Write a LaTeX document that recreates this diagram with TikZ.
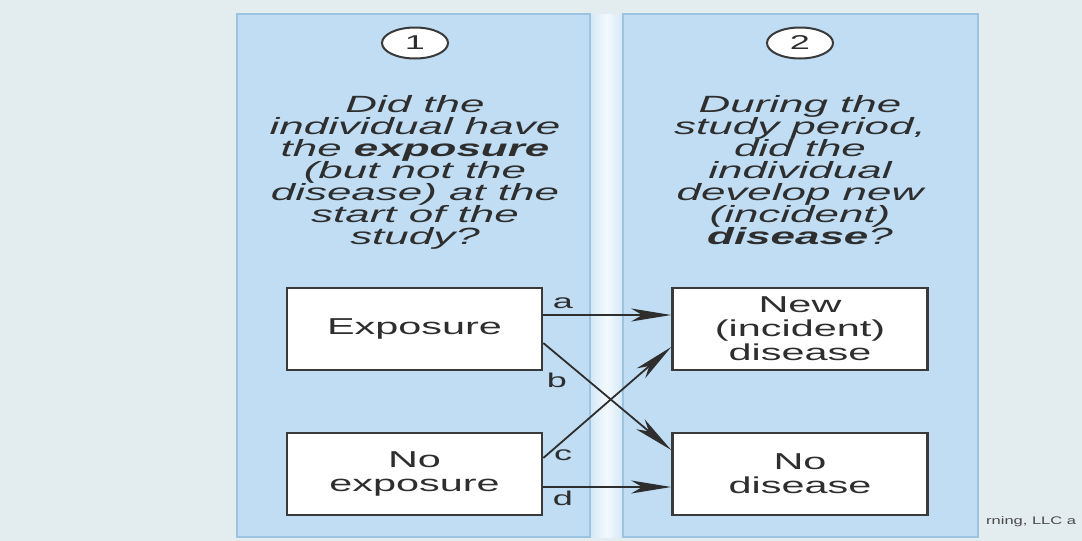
\documentclass[tikz,border=0pt]{standalone}
\usepackage{fontspec}
\usetikzlibrary{arrows.meta,shapes.geometric,calc}
\newfontfamily\widesans[FakeStretch=1.8]{Liberation Sans}
\newfontfamily\qsans[FakeStretch=1.87]{Liberation Sans}
\newfontfamily\notesans[FakeStretch=1.5]{Liberation Sans}
\definecolor{bgc}{HTML}{E3ECEF}
\definecolor{panelc}{HTML}{C0DDF3}
\definecolor{paneledge}{HTML}{9CC4E1}
\definecolor{gapc}{HTML}{F4FAFD}
\definecolor{inkc}{HTML}{2E2E2E}
\definecolor{boxedge}{HTML}{3A3A3A}
\definecolor{notec}{HTML}{4A4A4A}
\lineskiplimit=-60pt
\begin{document}
\begin{tikzpicture}[x=1pt,y=-1pt,
  panel/.style={fill=panelc,draw=paneledge,line width=1.5pt},
  stepbox/.style={draw=boxedge,fill=white,line width=2.6pt,minimum width=255pt,
    minimum height=82pt,inner sep=0pt,align=center,text=inkc,
    font=\widesans\fontsize{23}{24}\selectfont},
  question/.style={align=center,text=inkc,inner sep=0pt,
    font=\qsans\itshape\fontsize{23.5}{22}\selectfont},
  numbadge/.style={ellipse,draw=boxedge,fill=white,line width=2pt,
    minimum width=66pt,minimum height=31pt,inner sep=0pt,text=inkc,
    font=\widesans\fontsize{20}{20}\selectfont},
  flow/.style={draw=inkc,line width=1.8pt,
    -{Stealth[length=40pt,width=13pt,inset=11pt]}},
  pathlabel/.style={text=inkc,inner sep=0pt,
    font=\widesans\fontsize{20}{20}\selectfont}]

% page and background
\useasboundingbox (0,0) rectangle (1082,541);
\fill[bgc] (0,0) rectangle (1082,541);

% the two stage panels and the light strip between them
\shade[left color=panelc!70!white,right color=panelc!70!white,middle color=gapc]
  (590,14) rectangle (623,537);
\draw[panel] (237,14) rectangle (590,537);
\draw[panel] (623,14) rectangle (978,537);

% stage badges
\node[numbadge] (one) at (415,43) {1};
\node[numbadge] (two) at (800,43) {2};

% stage questions
\node[question] (q1) at (415,172) {Did the\\individual have\\the \textbf{exposure}\\(but not the\\disease) at the\\start of the\\study?};
\node[question] (q2) at (800,170) {During the\\study period,\\did the\\individual\\develop new\\(incident)\\\textbf{disease}?};

% outcome boxes
\node[stepbox] (ex) at (414.5,329) {Exposure};
\node[stepbox] (nx) at (414.5,474) {No\\exposure};
\node[stepbox] (nw) at (800,329) {New\\(incident)\\disease};
\node[stepbox] (nd) at (800,474) {No\\disease};

% transitions
\draw[flow] ($(ex.east)+(0,-14)$) -- ($(nw.west)+(0,-14)$);
\draw[flow] ($(ex.east)+(0,14)$) -- ($(nd.west)+(0,-24)$);
\draw[flow] ($(nx.east)+(0,-16)$) -- ($(nw.west)+(0,18)$);
\draw[flow] ($(nx.east)+(0,13)$) -- ($(nd.west)+(0,13)$);

% transition labels
\node[pathlabel] (la) at (563,303) {a};
\node[pathlabel] (lb) at (557,380) {b};
\node[pathlabel] (lc) at (563,455) {c};
\node[pathlabel] (ld) at (563,498) {d};

% credit line
\node[anchor=west,inner sep=0pt,text=notec,font=\notesans\fontsize{11}{11}\selectfont]
  (credit) at (986,522) {rning, LLC a};
\end{tikzpicture}
\end{document}
